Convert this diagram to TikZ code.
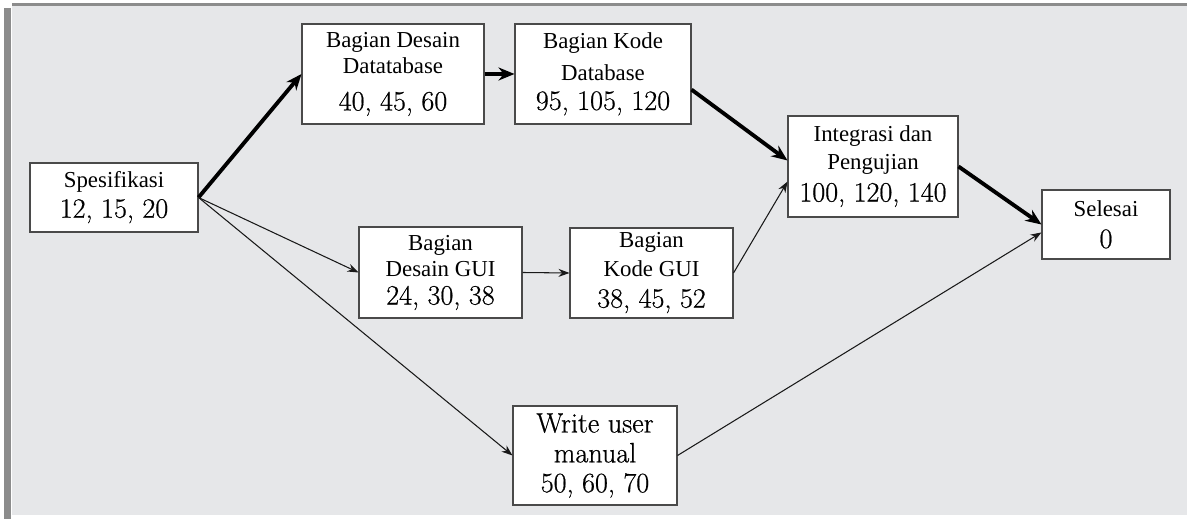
\documentclass[tikz,border=0pt]{standalone}
\usepackage{fontspec}
\newfontfamily\labfont{Liberation Serif}
\newfontfamily\numfont{Latin Modern Roman}[FakeBold=0.6]
\usepackage{xcolor}
\definecolor{panel}{HTML}{E6E7E9}
\definecolor{frameline}{HTML}{8C8C8C}
\definecolor{boxline}{HTML}{4A4A4A}
\usetikzlibrary{arrows.meta,positioning}

\begin{document}
\begin{tikzpicture}[
  x=0.02cm, y=-0.02cm,
  act/.style={draw=boxline, fill=white, line width=0.6pt, inner sep=0pt,
    align=center, font=\numfont\fontsize{16}{17}\selectfont},
  crit/.style={-{Stealth[length=3.2mm, width=2.6mm]}, line width=2.2pt, black},
  flow/.style={-{Stealth[length=2.2mm, width=1.6mm]}, line width=0.6pt, black!90}
]
\useasboundingbox (0,0) rectangle (1187,519);
\fill[panel] (12,5) rectangle (1187,515);
\draw[frameline, line width=1.2pt] (12,4.5) -- (1187,4.5);
\fill[frameline] (4,8) rectangle (11,519);

% activities
\node[act, minimum width=33.6mm, minimum height=13.8mm] (spes) at (114,197.5)
  {{\labfont\fontsize{13}{14}\selectfont Spesifikasi}\\12, 15, 20};
\node[act, minimum width=36.4mm, minimum height=20mm] (desdb) at (393,74)
  {{\labfont\fontsize{13}{13}\selectfont Bagian Desain}\\[-2pt]
   {\labfont\fontsize{13}{13}\selectfont Datatabase}\\[4pt]40, 45, 60};
\node[act, minimum width=35.2mm, minimum height=20mm] (kodedb) at (603,74)
  {{\labfont\fontsize{13}{13}\selectfont Bagian Kode}\\[1pt]
   {\labfont\fontsize{13}{13}\selectfont Database}\\[0pt]95, 105, 120};
\node[act, minimum width=34mm, minimum height=20.2mm] (integ) at (873,166.5)
  {{\labfont\fontsize{13}{13}\selectfont Integrasi dan}\\[-1pt]
   {\labfont\fontsize{13}{13}\selectfont Pengujian}\\[1pt]100, 120, 140};
\node[act, minimum width=25.6mm, minimum height=13.8mm] (selesai) at (1106,224.5)
  {{\labfont\fontsize{13}{14}\selectfont Selesai}\\[1pt]0};
\node[act, minimum width=32.6mm, minimum height=18.2mm] (desgui) at (440.5,272.5)
  {{\labfont\fontsize{13}{13}\selectfont Bagian}\\[-2pt]
   {\labfont\fontsize{13}{13}\selectfont Desain GUI}\\[-1pt]24, 30, 38};
\node[act, minimum width=32.6mm, minimum height=18mm] (kodegui) at (651.5,273)
  {{\labfont\fontsize{13}{13}\selectfont Bagian}\\[-1pt]
   {\labfont\fontsize{13}{13}\selectfont Kode GUI}\\[1pt]38, 45, 52};
\node[act, minimum width=32.8mm, minimum height=19.8mm] (write) at (595,455.5)
  {Write user\\manual\\50, 60, 70};

% critical path
\draw[crit] (spes.east) -- (desdb.west);
\draw[crit] (desdb.east) -- (kodedb.west);
\draw[crit] (kodedb.-10) -- (integ.176);
\draw[crit] (integ.east) -- (selesai.west);

% other paths
\draw[flow] (spes.east) -- (desgui.west);
\draw[flow] (desgui.east) -- (kodegui.west);
\draw[flow] (kodegui.east) -- (integ.190);
\draw[flow] (spes.east) -- (write.west);
\draw[flow] (write.east) -- (selesai.187);
\end{tikzpicture}
\end{document}
